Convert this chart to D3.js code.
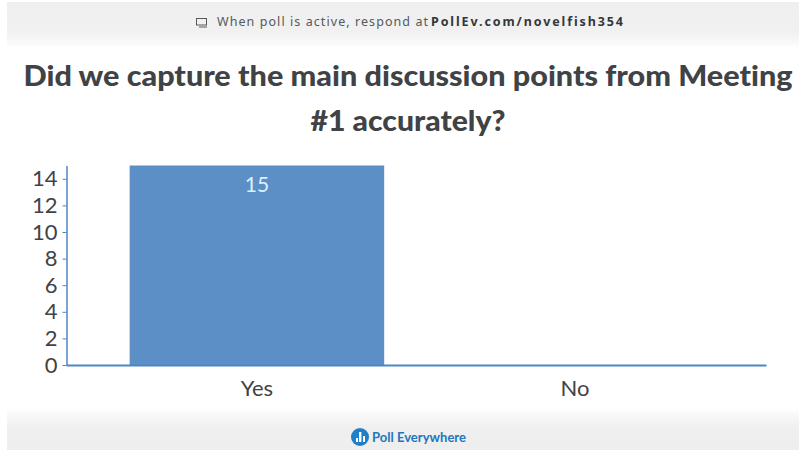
<!DOCTYPE html>
<html>
<head>
<meta charset="utf-8">
<script src="https://cdn.jsdelivr.net/npm/d3@7"></script>
<style>
html,body{margin:0;padding:0;background:#fff;}
svg{display:block;font-family:Lato,"Noto Sans",sans-serif;font-variant-ligatures:none;}
</style>
</head>
<body>
<svg id="chart" width="799" height="450"></svg>
<script>
const categories = ["Yes", "No"];
const responses = [15, 0];
const yTicks = [0, 2, 4, 6, 8, 10, 12, 14];
const titleLines = ["Did we capture the main discussion points from Meeting", "#1 accurately?"];
const headerLead = "When poll is active, respond at";
const headerLink = "PollEv.com/novelfish354";
const brandName = "Poll Everywhere";

const svg = d3.select("#chart");
const barColor = "#5b8fc5";
const axisColor = "#4f86c6";
const textColor = "#3f4346";
const labelFont = 'Lato,"Noto Sans",sans-serif';
const headerFont = '"Noto Sans",sans-serif';

// Soft page bands behind the header and footer
const defs = svg.append("defs");
const headGrad = defs.append("linearGradient").attr("id", "headBand").attr("x2", 0).attr("y2", 1);
headGrad.append("stop").attr("offset", "0").attr("stop-color", "#efefef");
headGrad.append("stop").attr("offset", "0.7").attr("stop-color", "#f1f1f1");
headGrad.append("stop").attr("offset", "1").attr("stop-color", "#fcfcfc");
const footGrad = defs.append("linearGradient").attr("id", "footBand").attr("x2", 0).attr("y2", 1);
footGrad.append("stop").attr("offset", "0").attr("stop-color", "#fcfcfc");
footGrad.append("stop").attr("offset", "0.45").attr("stop-color", "#efefef");
footGrad.append("stop").attr("offset", "1").attr("stop-color", "#eeeeee");
svg.append("rect").attr("x", 7).attr("y", 2).attr("width", 792).attr("height", 44).attr("fill", "url(#headBand)");
svg.append("rect").attr("x", 7).attr("y", 410).attr("width", 792).attr("height", 40).attr("fill", "url(#footBand)");

// Header line with a small screen icon
svg.append("text").attr("x", 217).attr("y", 26)
  .attr("font-family", headerFont).attr("font-size", 12.5).attr("fill", "#55595c")
  .attr("textLength", 211).attr("lengthAdjust", "spacing").text(headerLead);
svg.append("text").attr("x", 431).attr("y", 26)
  .attr("font-family", headerFont).attr("font-size", 12.5).attr("font-weight", 700).attr("fill", "#33373a")
  .attr("textLength", 192).attr("lengthAdjust", "spacing").text(headerLink);
const icon = svg.append("g").attr("fill", "none").attr("stroke", "#55595c").attr("stroke-width", 1);
icon.append("rect").attr("x", 196.5).attr("y", 18.5).attr("width", 10).attr("height", 6.5);
icon.append("path").attr("d", "M199 27H207");

// Question title
svg.append("g").selectAll("text").data(titleLines).join("text")
  .attr("x", 408).attr("y", (d, i) => 86 + i * 45)
  .attr("text-anchor", "middle")
  .attr("font-size", 28).attr("font-weight", 900).attr("fill", textColor)
  .attr("textLength", (d, i) => i === 0 ? 769 : 195)
  .attr("lengthAdjust", "spacingAndGlyphs")
  .text(d => d);

// Scales
const x = d3.scaleBand().domain(categories).range([66, 766]).padding(0.2);
const y = d3.scaleLinear().domain([0, 15]).range([365, 165.5]);

// Bars and value labels
const plot = svg.append("g");
plot.selectAll("rect").data(categories).join("rect")
  .attr("x", d => x(d))
  .attr("width", x.bandwidth())
  .attr("y", (d, i) => y(responses[i]))
  .attr("height", (d, i) => y(0) - y(responses[i]))
  .attr("fill", barColor);
plot.selectAll("text").data(categories.filter((d, i) => responses[i] > 0)).join("text")
  .attr("x", d => x(d) + x.bandwidth() / 2)
  .attr("y", d => y(responses[categories.indexOf(d)]) + 26)
  .attr("text-anchor", "middle").attr("font-size", 21).attr("fill", "#dcefff")
  .text(d => responses[categories.indexOf(d)]);

// Axes
const yAxis = svg.append("g").attr("transform", "translate(66.5,0)")
  .call(d3.axisLeft(y).tickValues(yTicks).tickSize(4).tickSizeOuter(0).tickPadding(5));
yAxis.select(".domain").attr("stroke", axisColor).attr("stroke-width", 1.5);
yAxis.selectAll(".tick line").attr("stroke", axisColor);
yAxis.selectAll("text").attr("font-size", 22).attr("font-family", labelFont).attr("fill", textColor);

const xAxis = svg.append("g").attr("transform", "translate(0,365)")
  .call(d3.axisBottom(x).tickSize(0).tickSizeOuter(0).tickPadding(15));
xAxis.select(".domain").attr("stroke", axisColor).attr("stroke-width", 2);
xAxis.selectAll("text").attr("font-size", 22).attr("font-family", labelFont).attr("fill", textColor);

// Brand mark in the footer
const brand = svg.append("g");
brand.append("circle").attr("cx", 360).attr("cy", 437).attr("r", 9).attr("fill", "#1f7fc9");
brand.append("g").attr("fill", "#fff").selectAll("rect").data([[356, 438, 2, 4], [359, 432, 2.4, 10], [363, 436, 2, 6]]).join("rect")
  .attr("x", d => d[0]).attr("y", d => d[1]).attr("width", d => d[2]).attr("height", d => d[3]);
brand.append("text").attr("x", 372).attr("y", 442).attr("font-size", 12.5).attr("font-weight", 700)
  .attr("fill", "#2176bd").attr("textLength", 94).attr("lengthAdjust", "spacingAndGlyphs").text(brandName);
</script>
</body>
</html>
